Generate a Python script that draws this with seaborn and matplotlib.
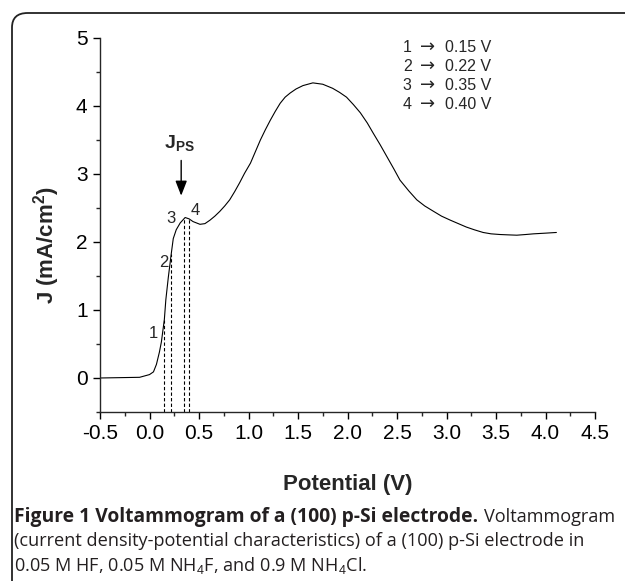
import matplotlib
matplotlib.use("Agg")
import matplotlib.pyplot as plt
import numpy as np
import pandas as pd
import seaborn as sns
from matplotlib.patches import FancyBboxPatch

# Voltammogram
potential = [-0.5, -0.3, -0.1, -0.05, 0.0, 0.04, 0.07, 0.10, 0.12, 0.15, 0.165,
             0.19, 0.22, 0.24, 0.27, 0.31, 0.36, 0.40, 0.44, 0.51, 0.56, 0.61,
             0.66, 0.71, 0.76, 0.81, 0.86, 0.91, 0.96, 1.02, 1.07, 1.12, 1.17,
             1.22, 1.27, 1.32, 1.37, 1.42, 1.48, 1.55, 1.65, 1.75, 1.85, 1.92,
             1.99, 2.06, 2.13, 2.20, 2.26, 2.33, 2.40, 2.47, 2.53, 2.62, 2.70,
             2.78, 2.87, 2.95, 3.04, 3.12, 3.20, 3.28, 3.37, 3.45, 3.54, 3.62,
             3.71, 3.80, 3.88, 4.00, 4.11]
current = [0.0, 0.005, 0.01, 0.03, 0.05, 0.09, 0.20, 0.38, 0.53, 0.86, 1.15,
           1.48, 1.83, 2.05, 2.18, 2.28, 2.36, 2.34, 2.30, 2.26, 2.27, 2.32,
           2.38, 2.45, 2.53, 2.62, 2.74, 2.87, 3.01, 3.16, 3.33, 3.50, 3.65,
           3.79, 3.92, 4.04, 4.13, 4.19, 4.25, 4.30, 4.34, 4.32, 4.26, 4.20,
           4.13, 4.02, 3.90, 3.75, 3.60, 3.43, 3.25, 3.07, 2.91, 2.75, 2.62,
           2.53, 2.45, 2.38, 2.32, 2.27, 2.22, 2.18, 2.14, 2.12, 2.11, 2.105,
           2.10, 2.11, 2.12, 2.13, 2.14]

# marked potentials (dashed lines) and their labels
mark_labels = ["1", "2", "3", "4"]
mark_potentials = [0.15, 0.22, 0.35, 0.40]
label_pos = [(0.035, 0.66), (0.14, 1.70), (0.22, 2.35), (0.46, 2.47)]

x_ticks = [-0.5, 0.0, 0.5, 1.0, 1.5, 2.0, 2.5, 3.0, 3.5, 4.0, 4.5]
y_ticks = [0, 1, 2, 3, 4, 5]

sns.set_style("ticks")
plt.rcParams["font.family"] = ["Liberation Sans", "DejaVu Sans"]
plt.rcParams["axes.unicode_minus"] = False
plt.rcParams["mathtext.fontset"] = "custom"
plt.rcParams["mathtext.rm"] = "Liberation Sans"
plt.rcParams["mathtext.bf"] = "Liberation Sans:bold"

fig = plt.figure(figsize=(6.25, 5.81), dpi=100)
ax = fig.add_axes([0.16, 0.2909, 0.792, 0.6437])

df = pd.DataFrame({"Potential": potential, "J": current})
sns.lineplot(data=df, x="Potential", y="J", color="black", linewidth=0.8,
             sort=False, ax=ax)

for xv in mark_potentials:
    top = np.interp(xv, potential, current)
    ax.plot([xv, xv], [-0.5, top], color="black", linestyle=(0, (3, 2)),
            linewidth=0.8)
for lab, (lx, ly) in zip(mark_labels, label_pos):
    ax.text(lx, ly, lab, fontsize=12, ha="center", va="center")

ax.annotate("", xy=(0.32, 2.64), xytext=(0.32, 3.24),
            arrowprops=dict(arrowstyle="-|>,head_length=0.9,head_width=0.35",
                            color="black", lw=1.0))
ax.text(0.3, 3.45, r"$\mathbf{J_{PS}}$", fontsize=14, ha="center",
        va="center")

# legend block: "1 -> 0.15 V" ...
for i, (lab, v) in enumerate(zip(mark_labels, mark_potentials)):
    yb = 4.79 - i * 0.28
    ax.text(2.56, yb, lab, fontsize=11.5, ha="left", va="baseline")
    ax.text(2.735, yb, "\u2192", fontsize=13, family="DejaVu Sans",
            ha="left", va="baseline")
    ax.text(2.985, yb, f"{v:.2f} V", fontsize=11.5, ha="left", va="baseline")

ax.set_xlim(-0.5, 4.5)
ax.set_ylim(-0.5, 5)
ax.set_xticks(x_ticks)
ax.set_xticklabels([f"{t:.1f}" for t in x_ticks])
ax.set_xticks(np.arange(-0.5, 4.51, 0.25), minor=True)
ax.set_yticks(y_ticks)
ax.set_yticks(np.arange(-0.5, 5.01, 0.5), minor=True)
ax.tick_params(which="major", length=5, width=1, labelsize=15, pad=4,
               colors="black")
ax.tick_params(which="minor", length=3, width=1)
for s in ax.spines.values():
    s.set_linewidth(1)
sns.despine(ax=ax)

ax.set_xlabel("Potential (V)", fontsize=16, fontweight="bold", va="baseline")
ax.set_ylabel(r"J (mA/cm$^\mathbf{2}$)", fontsize=16, fontweight="bold")
ax.xaxis.set_label_coords(0.5, -0.208)
ax.yaxis.set_label_coords(-0.077, 0.447)

# rounded frame around the figure panel
frame = FancyBboxPatch((12 / 625, -0.2), 1.2, 1 - 13 / 581 + 0.2,
                       boxstyle="round,pad=0,rounding_size=0.025",
                       transform=fig.transFigure, fill=False,
                       edgecolor="#222222", linewidth=1.3, clip_on=False)
fig.patches.append(frame)

cap_font = ["Open Sans", "DejaVu Sans"]
cap_size = 13.1
t1 = fig.text(14 / 625, 1 - 522 / 581, "Figure 1 Voltammogram of a (100) p-Si electrode.",
              fontsize=13.9, fontweight="bold", family=cap_font,
              color="#231f20")
fig.text(14 / 625, 1 - 546 / 581,
         "(current density-potential characteristics) of a (100) p-Si electrode in",
         fontsize=cap_size, family=cap_font, color="#231f20")
fig.text(14 / 625, 1 - 571 / 581,
         "0.05 M HF, 0.05 M NH$_4$F, and 0.9 M NH$_4$Cl.",
         fontsize=cap_size, family=cap_font, color="#231f20")
fig.canvas.draw()
bb = t1.get_window_extent()
fig.text(bb.x1 / fig.bbox.width + 6 / 625, 1 - 522 / 581, "Voltammogram",
         fontsize=cap_size, family=cap_font, color="#231f20")

fig.savefig("out.png", dpi=100)
